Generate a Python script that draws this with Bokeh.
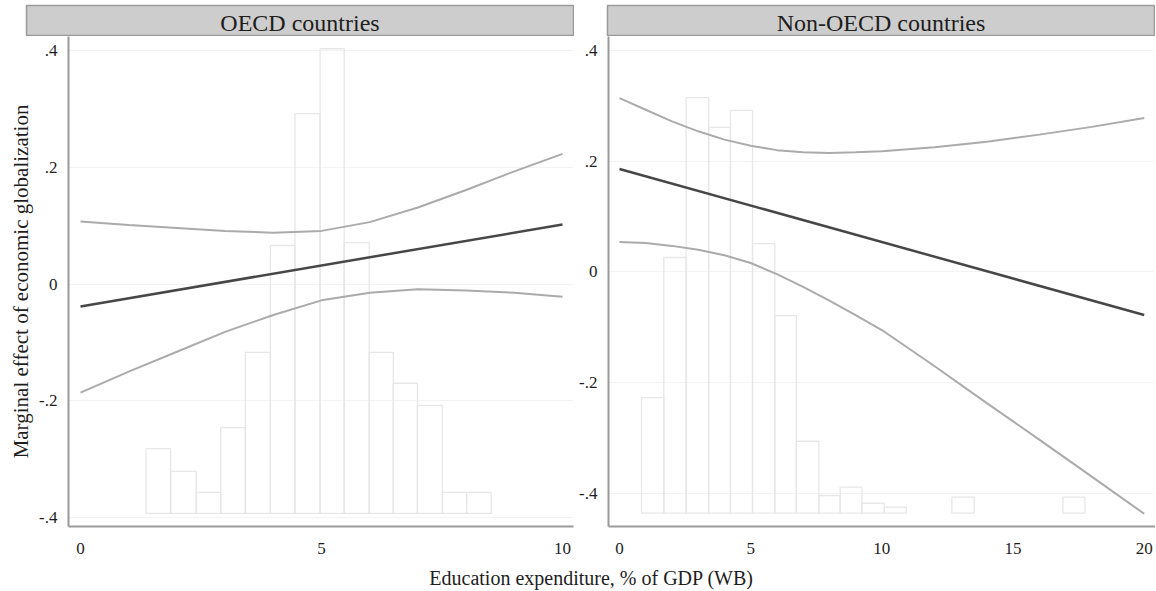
from bokeh.plotting import figure
from bokeh.layouts import column, row
from bokeh.models import Range1d, FixedTicker
from bokeh.embed import file_html
from bokeh.resources import INLINE
from bokeh.core.properties import value

FONT = "Liberation Serif"
TXT = "#1e1e1e"

# ---------------- data: OECD panel ----------------
oecd_line_x = [0, 10]
oecd_effect = [-0.0385, 0.102]
oecd_ci_x = [0, 1, 2, 3, 4, 5, 6, 7, 8, 9, 10]
oecd_upper = [0.107, 0.101, 0.096, 0.091, 0.088, 0.091, 0.106, 0.131, 0.161, 0.193, 0.223]
oecd_lower = [-0.186, -0.150, -0.116, -0.082, -0.053, -0.028, -0.015, -0.009, -0.011, -0.015, -0.022]
oecd_bin_left = [1.36, 1.87, 2.40, 2.91, 3.42, 3.94, 4.45, 4.97, 5.47, 5.99, 6.49, 6.99, 7.51, 8.01]
oecd_bin_right = [1.87, 2.40, 2.91, 3.42, 3.94, 4.45, 4.97, 5.47, 5.99, 6.49, 6.99, 7.51, 8.01, 8.52]
oecd_bin_top = [-0.282, -0.321, -0.357, -0.246, -0.117, 0.066, 0.292, 0.403, 0.071, -0.117, -0.170, -0.208, -0.357, -0.357]
oecd_hist_base = -0.393

# ---------------- data: Non-OECD panel ----------------
non_line_x = [0, 20]
non_effect = [0.186, -0.078]
non_ci_x = [0, 1, 2, 3, 4, 5, 6, 7, 8, 9, 10, 12, 14, 16, 18, 20]
non_upper = [0.314, 0.293, 0.272, 0.254, 0.239, 0.228, 0.220, 0.216, 0.215, 0.216, 0.218, 0.225, 0.235, 0.248, 0.262, 0.278]
non_lower = [0.054, 0.052, 0.047, 0.040, 0.030, 0.016, -0.004, -0.027, -0.052, -0.078, -0.105, -0.170, -0.237, -0.303, -0.370, -0.437]
non_bin_left = [0.84, 1.69, 2.54, 3.40, 4.23, 5.07, 5.92, 6.74, 7.60, 8.41, 9.24, 10.09, 12.67, 16.90]
non_bin_right = [1.69, 2.54, 3.40, 4.23, 5.07, 5.92, 6.74, 7.60, 8.41, 9.24, 10.09, 10.93, 13.52, 17.74]
non_bin_top = [-0.227, 0.026, 0.315, 0.261, 0.292, 0.051, -0.079, -0.306, -0.404, -0.389, -0.418, -0.425, -0.407, -0.407]
non_hist_base = -0.436

y_ticks = [-0.4, -0.2, 0, 0.2, 0.4]
y_tick_labels = ["-.4", "-.2", "0", ".2", ".4"]
oecd_x_ticks = [0, 5, 10]
non_x_ticks = [0, 5, 10, 15, 20]

titles = ["OECD countries", "Non-OECD countries"]
y_title = "Marginal effect of economic globalization"
x_title = "Education expenditure, % of GDP (WB)"


def strip(title, width, left, right):
    s = figure(width=width, height=36, x_range=Range1d(0, 1), y_range=Range1d(0, 1),
               min_border_left=left, min_border_right=right, min_border_top=5,
               min_border_bottom=0, x_axis_location=None, y_axis_location=None,
               toolbar_location=None, output_backend="svg")
    s.background_fill_color = "#cdcdcd"
    s.border_fill_color = "white"
    s.outline_line_color = "#9a9a9a"
    s.outline_line_width = 1.5
    s.grid.visible = False
    s.text(x=[0.5], y=[0.45], text=[title], text_align="center", text_baseline="middle",
           text_font=value(FONT), text_font_size="24px", text_color=TXT)
    return s


def panel(width, xr, yr, left, right, xticks, bl, br, bt, base, cx, up, lo, lx, eff, ylabel):
    p = figure(width=width, height=526, x_range=Range1d(*xr), y_range=Range1d(*yr),
               min_border_left=left, min_border_right=right, min_border_top=0,
               min_border_bottom=36, toolbar_location=None, output_backend="svg")
    p.outline_line_color = None
    p.background_fill_color = "white"
    p.border_fill_color = "white"
    p.xgrid.visible = False
    p.ygrid.grid_line_color = "#f3f3f3"
    p.ygrid.grid_line_width = 1
    p.xaxis.ticker = FixedTicker(ticks=xticks, minor_ticks=[])
    p.yaxis.ticker = FixedTicker(ticks=y_ticks, minor_ticks=[])
    p.yaxis.major_label_overrides = dict(zip(y_ticks, y_tick_labels))
    for ax in (p.xaxis[0], p.yaxis[0]):
        ax.axis_line_color = "#9a9a9a"
        ax.axis_line_width = 2
        ax.major_tick_line_color = None
        ax.minor_tick_line_color = None
        ax.major_tick_out = 0
        ax.major_tick_in = 0
        ax.minor_tick_out = 0
        ax.minor_tick_in = 0
        ax.major_label_text_font = FONT
        ax.major_label_text_font_size = "17px"
        ax.major_label_text_color = TXT
    p.xaxis.major_label_standoff = 16
    p.yaxis.major_label_standoff = 11
    if ylabel:
        p.yaxis.axis_label = ylabel
        p.yaxis.axis_label_text_font = FONT
        p.yaxis.axis_label_text_font_size = "21px"
        p.yaxis.axis_label_text_font_style = "normal"
        p.yaxis.axis_label_text_color = TXT
        p.yaxis.axis_label_standoff = 3
    p.quad(left=bl, right=br, top=bt, bottom=base, fill_color=None,
           line_color="#e7e7e7", line_width=1.3)
    p.line(cx, up, line_color="#ababab", line_width=2)
    p.line(cx, lo, line_color="#ababab", line_width=2)
    p.line(lx, eff, line_color="#474747", line_width=2.5)
    return p


sL = strip(titles[0], 574, 26, 1)
sR = strip(titles[1], 581, 33, 1)

pL = panel(574, (-0.249, 10.228), (-0.4154, 0.424), 68, 1, oecd_x_ticks,
           oecd_bin_left, oecd_bin_right, oecd_bin_top, oecd_hist_base,
           oecd_ci_x, oecd_upper, oecd_lower, oecd_line_x, oecd_effect, y_title)
pR = panel(581, (-0.419, 20.43), (-0.46, 0.4253), 34, 0, non_x_ticks,
           non_bin_left, non_bin_right, non_bin_top, non_hist_base,
           non_ci_x, non_upper, non_lower, non_line_x, non_effect, None)

xl = figure(width=1155, height=28, x_range=Range1d(0, 1155), y_range=Range1d(0, 28),
            min_border_left=0, min_border_right=0, min_border_top=0, min_border_bottom=0,
            x_axis_location=None, y_axis_location=None, toolbar_location=None,
            output_backend="svg")
xl.outline_line_color = None
xl.grid.visible = False
xl.text(x=[591], y=[13], text=[x_title], text_align="center", text_baseline="middle",
        text_font=value(FONT), text_font_size="20px", text_color=TXT)

layout = column(row(sL, sR), row(pL, pR), xl)

open("out.html", "w").write(file_html(layout, INLINE))
